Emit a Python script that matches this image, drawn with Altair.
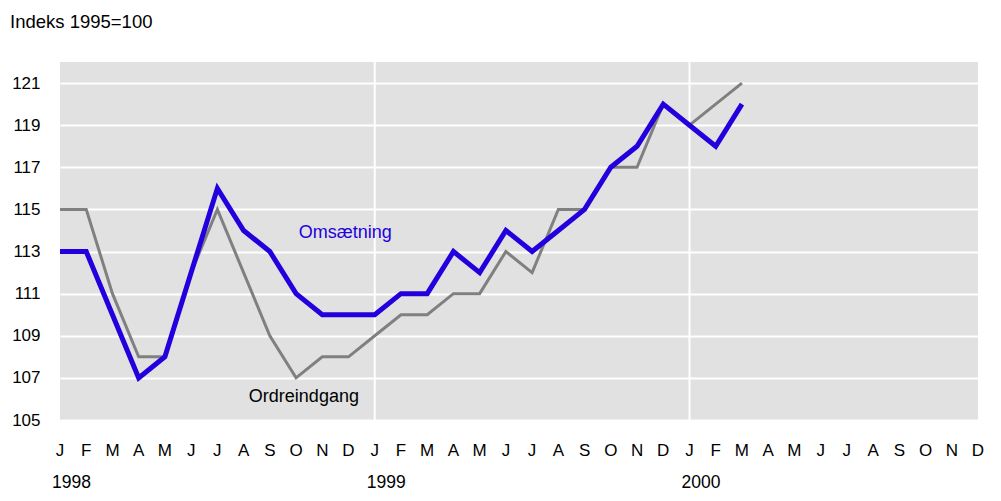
import altair as alt
import pandas as pd

month_letters = ["J", "F", "M", "A", "M", "J", "J", "A", "S", "O", "N", "D"]
years = ["1998", "1999", "2000"]

# Jan 1998 .. Mar 2000 (27 months)
omsaetning = [113, 113, 110, 107, 108, 112, 116, 114, 113, 111, 110, 110,
              110, 111, 111, 113, 112, 114, 113, 114, 115, 117, 118, 120,
              119, 118, 120]
ordreindgang = [115, 115, 111, 108, 108, 112, 115, 112, 109, 107, 108, 108,
                109, 110, 110, 111, 111, 113, 112, 115, 115, 117, 117, 120,
                119, 120, 121]

y_ticks = [105, 107, 109, 111, 113, 115, 117, 119, 121]
n_months = 36

FONT = "Liberation Sans, Arial, sans-serif"
BLUE = "#2200dd"
GREY = "#808080"
PLOT_H = 358

df = pd.DataFrame({
    "m": list(range(len(omsaetning))) * 2,
    "value": omsaetning + ordreindgang,
    "serie": ["Omsætning"] * len(omsaetning) + ["Ordreindgang"] * len(ordreindgang),
})

x_scale = alt.Scale(domain=[0, n_months - 1], nice=False, zero=False)
y_scale = alt.Scale(domain=[105, 122], nice=False, zero=False)

y_axis = alt.Axis(values=y_ticks, title=None, grid=True, gridColor="white",
                  gridWidth=2, gridOpacity=1, ticks=False, domain=False,
                  labelFont=FONT, labelFontSize=17, labelColor="black",
                  labelPadding=20, labelOverlap=False)

base = alt.Chart(df)

vlines_df = pd.DataFrame({"m": [12, 24]})
vlines = alt.Chart(vlines_df).mark_rule(color="white", strokeWidth=2).encode(
    x=alt.X("m:Q", scale=x_scale, axis=None)
)

grey_line = base.transform_filter(alt.datum.serie == "Ordreindgang").mark_line(
    color=GREY, strokeWidth=3, strokeJoin="miter"
).encode(
    x=alt.X("m:Q", scale=x_scale, axis=None),
    y=alt.Y("value:Q", scale=y_scale, axis=y_axis),
)
blue_line = base.transform_filter(alt.datum.serie == "Omsætning").mark_line(
    color=BLUE, strokeWidth=5, strokeJoin="miter"
).encode(
    x=alt.X("m:Q", scale=x_scale, axis=None),
    y=alt.Y("value:Q", scale=y_scale, axis=y_axis),
)

labels_df = pd.DataFrame({
    "m": [9.1, 7.2],
    "value": [113.9, 106.1],
    "text": ["Omsætning", "Ordreindgang"],
    "color": [BLUE, "black"],
})
series_labels = alt.Chart(labels_df).mark_text(
    align="left", baseline="middle", font=FONT, fontSize=18
).encode(
    x=alt.X("m:Q", scale=x_scale),
    y=alt.Y("value:Q", scale=y_scale),
    text="text:N",
    color=alt.Color("color:N", scale=None),
)

months_df = pd.DataFrame({
    "m": list(range(n_months)),
    "letter": [month_letters[i % 12] for i in range(n_months)],
})
month_labels = alt.Chart(months_df).mark_text(
    align="center", baseline="middle", font=FONT, fontSize=17, color="black"
).encode(
    x=alt.X("m:Q", scale=x_scale),
    y=alt.value(PLOT_H + 31),
    text="letter:N",
)

years_df = pd.DataFrame({"m": [0, 12, 24], "year": years})
year_labels = alt.Chart(years_df).mark_text(
    align="left", baseline="middle", font=FONT, fontSize=17.5, dx=-8, color="black"
).encode(
    x=alt.X("m:Q", scale=x_scale),
    y=alt.value(PLOT_H + 63),
    text="year:N",
)

chart = alt.layer(vlines, grey_line, blue_line, series_labels, month_labels,
                  year_labels).properties(
    width=918,
    height=PLOT_H,
    autosize=alt.AutoSizeParams(type="none"),
    padding={"left": 52, "top": 54, "right": 15, "bottom": 74},
    title=alt.TitleParams(text="Indeks 1995=100", anchor="start", frame="group",
                          dx=-50, offset=30, font=FONT, fontSize=18.5,
                          fontWeight="normal", color="black"),
).configure(background="white").configure_view(fill="#e1e1e1", stroke=None)

chart.save("out.html", embed_options={"renderer": "svg", "actions": False})
